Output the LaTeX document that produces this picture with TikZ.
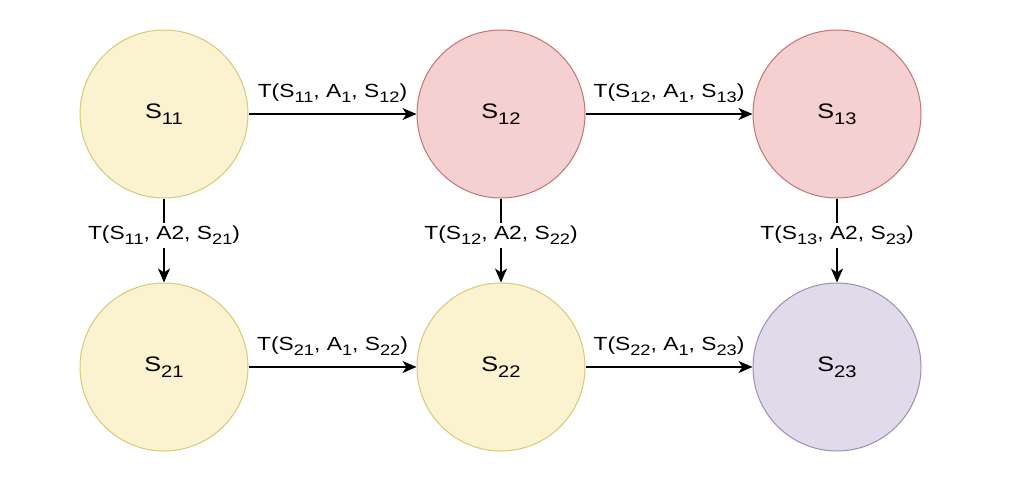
\documentclass[tikz,border=0pt]{standalone}
\usepackage{fontspec}
\usepackage{graphicx}
\setmainfont[FakeStretch=1.2]{Liberation Sans}
\usetikzlibrary{arrows.meta}
\definecolor{yfill}{HTML}{FBF3CF}
\definecolor{ydraw}{HTML}{D6C97A}
\definecolor{rfill}{HTML}{F4D1D0}
\definecolor{rdraw}{HTML}{C27375}
\definecolor{pfill}{HTML}{E1DAEA}
\definecolor{pdraw}{HTML}{9B8FB2}
\newcommand{\lowidx}[1]{\raisebox{-0.5ex}{\scalebox{0.8}{#1}}}
\tikzset{
  state/.style={circle, minimum size=168pt, inner sep=0pt, line width=1pt,
    font=\fontsize{21}{24}\selectfont},
  ystate/.style={state, fill=yfill, draw=ydraw},
  rstate/.style={state, fill=rfill, draw=rdraw},
  pstate/.style={state, fill=pfill, draw=pdraw},
  trans/.style={line width=1.5pt, -{Stealth[length=14pt,width=12pt,inset=4pt]}},
  hlab/.style={anchor=base, yshift=17pt, inner sep=0pt, font=\fontsize{19}{22}\selectfont},
  vlab/.style={anchor=base, fill=white, inner sep=3pt, font=\fontsize{19}{22}\selectfont}
}
\begin{document}
\begin{tikzpicture}[x=1pt,y=-1pt]
\useasboundingbox (0,0) rectangle (1024,482);
\node[ystate] (s11) at (164,114) {S\lowidx{11}};
\node[rstate] (s12) at (501,114) {S\lowidx{12}};
\node[rstate] (s13) at (837,114) {S\lowidx{13}};
\node[ystate] (s21) at (164,367) {S\lowidx{21}};
\node[ystate] (s22) at (501,367) {S\lowidx{22}};
\node[pstate] (s23) at (837,367) {S\lowidx{23}};
\draw[trans] (s11) -- node[hlab] {T(S\lowidx{11}, A\lowidx{1}, S\lowidx{12})} (s12);
\draw[trans] (s12) -- node[hlab] {T(S\lowidx{12}, A\lowidx{1}, S\lowidx{13})} (s13);
\draw[trans] (s21) -- node[hlab] {T(S\lowidx{21}, A\lowidx{1}, S\lowidx{22})} (s22);
\draw[trans] (s22) -- node[hlab] {T(S\lowidx{22}, A\lowidx{1}, S\lowidx{23})} (s23);
\draw[trans] (s11) -- node[vlab, pos=0.49] {T(S\lowidx{11}, A2, S\lowidx{21})} (s21);
\draw[trans] (s12) -- node[vlab, pos=0.49] {T(S\lowidx{12}, A2, S\lowidx{22})} (s22);
\draw[trans] (s13) -- node[vlab, pos=0.49] {T(S\lowidx{13}, A2, S\lowidx{23})} (s23);
\end{tikzpicture}
\end{document}
